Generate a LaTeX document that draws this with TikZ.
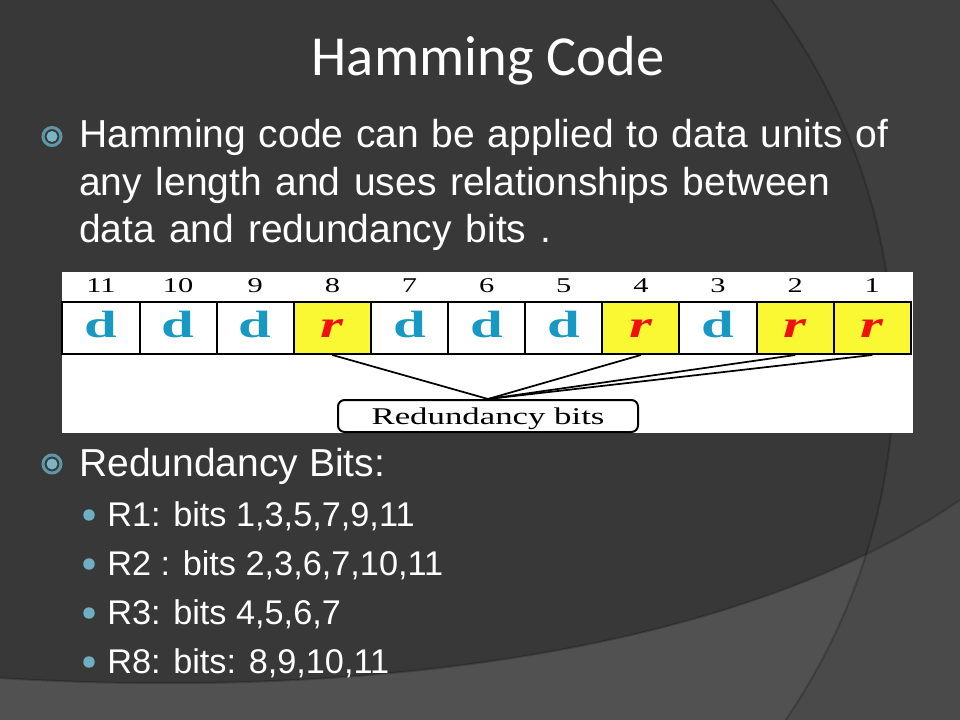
\documentclass[tikz,border=0pt]{standalone}
\usepackage{fontspec}
\setmainfont{Liberation Sans}
\newfontfamily\titlefont{Carlito}
\newfontfamily\figfont[FakeStretch=1.45]{Liberation Serif}
\newfontfamily\cellfont[FakeStretch=1.55]{Liberation Serif}
\definecolor{bgmain}{HTML}{383838}
\definecolor{bgright}{HTML}{3F3F3F}
\definecolor{band}{HTML}{515151}
\definecolor{bandright}{HTML}{4A4A4A}
\definecolor{ringcol}{HTML}{5F97A8}
\definecolor{dotcol}{HTML}{79B4C6}
\definecolor{subdot}{HTML}{6FAEC3}
\definecolor{dteal}{HTML}{1899C4}
\definecolor{rred}{HTML}{F01010}
\definecolor{ryellow}{HTML}{FAF733}
\tikzset{
  txt/.style={inner sep=0pt, anchor=base west, text=white},
  maintxt/.style={txt, font=\fontsize{29.25}{35}\selectfont},
  subtxt/.style={txt, font=\fontsize{25.7}{31}\selectfont},
  ringb/.style={circle, draw=ringcol, line width=2.25pt, minimum size=13.5pt, inner sep=0pt},
  ringdot/.style={circle, fill=dotcol, minimum size=8.25pt, inner sep=0pt},
  subb/.style={circle, fill=subdot, minimum size=8.6pt, inner sep=0pt},
  cell/.style={draw=black, line width=1.5pt, minimum width=57.85pt, minimum height=39pt,
    inner sep=0pt, text height=13.5pt, text depth=0pt},
  dcell/.style={cell, fill=white, text=dteal, font=\cellfont\bfseries\fontsize{28.5}{29}\selectfont},
  rcell/.style={cell, fill=ryellow, text=rred, font=\cellfont\bfseries\itshape\fontsize{28.5}{29}\selectfont},
  numlab/.style={inner sep=0pt, anchor=base, text=black, font=\figfont\fontsize{15.75}{16}\selectfont},
  rbox/.style={draw=black, line width=1.5pt, rounded corners=5pt, minimum width=225pt,
    minimum height=24pt, inner sep=0pt, fill=white, text height=12pt, text depth=0pt,
    font=\figfont\fontsize{18}{20}\selectfont},
  conn/.style={draw=black, line width=1.3pt},
  shadowline/.style={draw=black, opacity=0.2, line width=1.5pt}
}
\begin{document}
\begin{tikzpicture}[x=0.75pt,y=-0.75pt]
\useasboundingbox (0,0) rectangle (960,720);
% background
\fill[bgmain] (0,0) rectangle (960,720);
\begin{scope}
  \clip (0,0) rectangle (960,720);
  \fill[bgright, even odd rule] (-10,-10) rectangle (970,730) (275,370) circle (619);
  \fill[band] (0,678) .. controls (320,698) and (720,665) .. (960,500) -- (960,720) -- (0,720) -- cycle;
  \begin{scope}
    \clip (0,678) .. controls (320,698) and (720,665) .. (960,500) -- (960,720) -- (0,720) -- cycle;
    \fill[bandright, even odd rule] (-10,-10) rectangle (970,730) (275,370) circle (619);
  \end{scope}
  \draw[shadowline] (275,370) circle (619);
  \draw[shadowline] (0,678) .. controls (320,698) and (720,665) .. (960,500);
\end{scope}

% title
\node[inner sep=0pt, anchor=base, text=white, font=\titlefont\fontsize{42.4}{50}\selectfont] (title) at (488,76) {Hamming Code};

% first bullet
\node[ringb] (b1) at (52,136.5) {};
\node[ringdot] (b1d) at (52,136.5) {};
\node[maintxt] (l1) at (79,148) {\makebox[606.75pt][s]{Hamming code can be applied to data units of}};
\node[maintxt] (l2) at (79,195.5) {\makebox[563.25pt][s]{any length and uses relationships between}};
\node[maintxt] (l3) at (79,243) {\makebox[354pt][s]{data and redundancy bits .}};

% figure
\fill[white] (61.5,272) rectangle (913,433);
\foreach \i/\k/\s/\t in {0/11/dcell/d,1/10/dcell/d,2/9/dcell/d,3/8/rcell/r,4/7/dcell/d,
  5/6/dcell/d,6/5/dcell/d,7/4/rcell/r,8/3/dcell/d,9/2/rcell/r,10/1/rcell/r} {
  \node[\s] (c\k) at ({101+77.13*\i},328) {\t};
  \node[numlab] (n\k) at ({101+77.13*\i},292) {\k};
}
\node[rbox] (rb) at (488,416) {Redundancy bits};
\draw[conn] (c8.south) -- (rb.north);
\draw[conn] (c4.south) -- (rb.north);
\draw[conn] (c2.south) -- (rb.north);
\draw[conn] (c1.south) -- (rb.north);

% second bullet
\node[ringb] (b2) at (52,464) {};
\node[ringdot] (b2d) at (52,464) {};
\node[maintxt] (l4) at (79,476) {Redundancy Bits:};

\node[subb] (d1) at (89,515) {};
\node[subtxt] (s1) at (107,526) {R1: bits 1,3,5,7,9,11};
\node[subb] (d2) at (89,564) {};
\node[subtxt] (s2) at (107,575) {R2 : bits 2,3,6,7,10,11};
\node[subb] (d3) at (89,613) {};
\node[subtxt] (s3) at (107,624) {R3: bits 4,5,6,7};
\node[subb] (d4) at (89,662) {};
\node[subtxt] (s4) at (107,673) {R8: bits: 8,9,10,11};
\end{tikzpicture}
\end{document}
